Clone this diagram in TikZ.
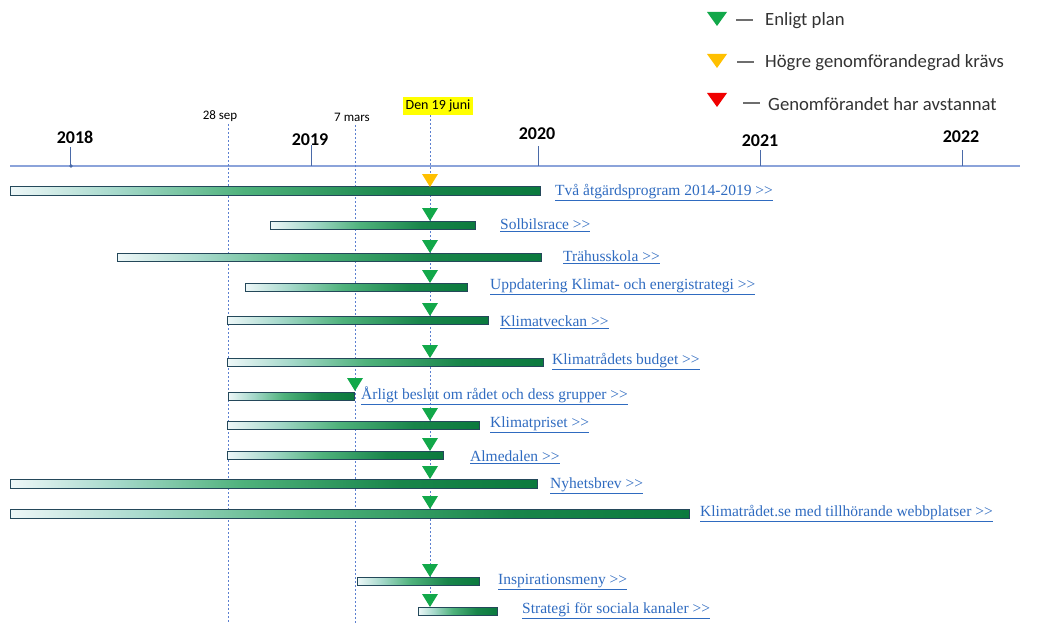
\documentclass[tikz,border=0pt]{standalone}
\usepackage{fontspec}
\setmainfont{Carlito}
\newfontfamily\linkfont{Liberation Serif}
\usetikzlibrary{calc}
\definecolor{axisblue}{HTML}{8BA3DA}
\definecolor{tickblue}{HTML}{4A6AA8}
\definecolor{datumblue}{HTML}{5B7FD0}
\definecolor{linkblue}{HTML}{2F6BC0}
\definecolor{barline}{HTML}{24485A}
\definecolor{barpale}{HTML}{EEF7F8}
\definecolor{barlight}{HTML}{A6D9CB}
\definecolor{barmid}{HTML}{4FB27C}
\definecolor{bardark}{HTML}{0B7A3E}
\definecolor{planok}{HTML}{12A84A}
\definecolor{planwarn}{HTML}{FFC000}
\definecolor{planstop}{HTML}{F00000}
\definecolor{dashgrey}{HTML}{6E6E6E}
\definecolor{juniyellow}{HTML}{FFFF00}
\pgfdeclarehorizontalshading{barshade}{100bp}{color(0bp)=(barpale); color(25bp)=(barpale);
  color(35bp)=(barlight); color(47bp)=(barmid); color(62bp)=(bardark!80!barmid);
  color(75bp)=(bardark); color(100bp)=(bardark)}
\tikzset{
  planbar/.style={draw=barline, line width=0.9pt, shading=barshade},
  linklabel/.style={anchor=west, text=linkblue, inner sep=0pt, font=\linkfont\fontsize{15.5}{17}\selectfont},
  yearlabel/.style={inner sep=0pt, font=\bfseries\fontsize{18}{20}\selectfont},
  datelabel/.style={inner sep=0pt, font=\fontsize{13}{15}\selectfont},
  legendlabel/.style={anchor=west, inner sep=0pt, text=black!80, font=\fontsize{18.7}{20}\selectfont},
  datumline/.style={datumblue, line width=0.8pt, dash pattern=on 2pt off 2pt},
  tickline/.style={tickblue, line width=0.9pt},
}
\newcommand{\more}{>\kern0pt>}
\newcommand{\lnk}[1]{\underline{#1}}

\begin{document}
\begin{tikzpicture}[x=1pt,y=-1pt]
  \useasboundingbox (0,0) rectangle (1062,623);
  % legend
  \fill[planok] (707,12) -- (727,12) -- (717,26) -- cycle;
  \fill[planwarn] (707,54) -- (727,54) -- (717,68) -- cycle;
  \fill[planstop] (707,93) -- (727,93) -- (717,107) -- cycle;
  \draw[dashgrey, line width=1.4pt] (736,20) -- (753,20);
  \draw[dashgrey, line width=1.4pt] (737,62) -- (754,62);
  \draw[dashgrey, line width=1.4pt] (743,103) -- (760,103);
  \node[legendlabel] (enligt) at (765,21) {Enligt plan};
  \node[legendlabel] (hogre) at (765,63) {Högre genomförandegrad krävs};
  \node[legendlabel] (avstannat) at (768,104) {Genomförandet har avstannat};

  % time axis
  \draw[axisblue, line width=1.2pt] (10,166) -- (1020,166);
  \draw[tickline] (70,147) -- (70,166);
  \fill[tickblue] (71,166) circle (1.8);
  \draw[tickline] (311,145) -- (311,166);
  \draw[tickline] (538,146) -- (538,166);
  \draw[tickline] (760,150) -- (760,166);
  \draw[tickline] (962,150) -- (962,166);
  \node[yearlabel] (y2018) at (75,137) {2018};
  \node[yearlabel] (y2019) at (310,140) {2019};
  \node[yearlabel] (y2020) at (537,134) {2020};
  \node[yearlabel] (y2021) at (760,141) {2021};
  \node[yearlabel] (y2022) at (961,137) {2022};

  % dates
  \node[datelabel] (sep) at (220,116) {28 sep};
  \node[datelabel] (mars) at (352,117) {7 mars};
  \node[datelabel, fill=juniyellow, inner xsep=3pt, inner ysep=3pt, font=\fontsize{14}{16}\selectfont] (juni) at (438,106) {Den 19 juni};
  \coordinate (sep end) at (228,623);
  \coordinate (mars end) at (355,623);
  \coordinate (juni end) at (430,612);
  \draw[datumline] (228,124) -- (sep end);
  \draw[datumline] (355,125) -- (mars end);
  \draw[datumline] (juni.south -| juni end) -- (juni end);

  % activities
  \shade[planbar] (10,186) rectangle (540,195);
  \shade[planbar] (270,221) rectangle (475,229);
  \shade[planbar] (117,253) rectangle (541,261);
  \shade[planbar] (245,283) rectangle (467,291);
  \shade[planbar] (227,316) rectangle (488,324);
  \shade[planbar] (227,358) rectangle (543,366);
  \shade[planbar] (228,392) rectangle (354,400);
  \shade[planbar] (227,421) rectangle (479,429);
  \shade[planbar] (227,451) rectangle (443,459);
  \shade[planbar] (10,479) rectangle (537,488);
  \shade[planbar] (10,509) rectangle (689,518);
  \shade[planbar] (357,577) rectangle (479,585);
  \shade[planbar] (418,607) rectangle (497,615);

  % status markers
  \fill[planwarn] (422,174) -- (438,174) -- (430,187) -- cycle;
  \fill[planok] (422,208) -- (438,208) -- (430,221) -- cycle;
  \fill[planok] (422,240) -- (438,240) -- (430,253) -- cycle;
  \fill[planok] (422,270) -- (438,270) -- (430,283) -- cycle;
  \fill[planok] (422,303) -- (438,303) -- (430,316) -- cycle;
  \fill[planok] (422,345) -- (438,345) -- (430,358) -- cycle;
  \fill[planok] (347,378) -- (363,378) -- (355,391) -- cycle;
  \fill[planok] (422,408) -- (438,408) -- (430,421) -- cycle;
  \fill[planok] (422,438) -- (438,438) -- (430,451) -- cycle;
  \fill[planok] (422,466) -- (438,466) -- (430,479) -- cycle;
  \fill[planok] (422,496) -- (438,496) -- (430,509) -- cycle;
  \fill[planok] (422,564) -- (438,564) -- (430,577) -- cycle;
  \fill[planok] (422,594) -- (438,594) -- (430,607) -- cycle;

  % links
  \node[linklabel] (tva) at (555,193) {\lnk{Två åtgärdsprogram 2014-2019 \more}};
  \node[linklabel] (solbil) at (500,225) {\lnk{Solbilsrace \more}};
  \node[linklabel] (trahus) at (563,257) {\lnk{Trähusskola \more}};
  \node[linklabel] (strategi) at (490,287) {\lnk{Uppdatering Klimat- och energistrategi \more}};
  \node[linklabel] (vecka) at (500,322) {\lnk{Klimatveckan \more}};
  \node[linklabel] (budget) at (552,362) {\lnk{Klimatrådets budget \more}};
  \node[linklabel] (beslut) at (361,396) {\lnk{Årligt beslut om rådet och dess grupper \more}};
  \node[linklabel] (pris) at (490,425) {\lnk{Klimatpriset \more}};
  \node[linklabel] (almedal) at (470,457) {\lnk{Almedalen \more}};
  \node[linklabel] (nyhet) at (550,486) {\lnk{Nyhetsbrev \more}};
  \node[linklabel] (webb) at (700,514) {\lnk{Klimatrådet.se med tillhörande webbplatser \more}};
  \node[linklabel] (inspiration) at (498,582) {\lnk{Inspirationsmeny \more}};
  \node[linklabel] (sociala) at (522,611) {\lnk{Strategi för sociala kanaler \more}};
\end{tikzpicture}
\end{document}
